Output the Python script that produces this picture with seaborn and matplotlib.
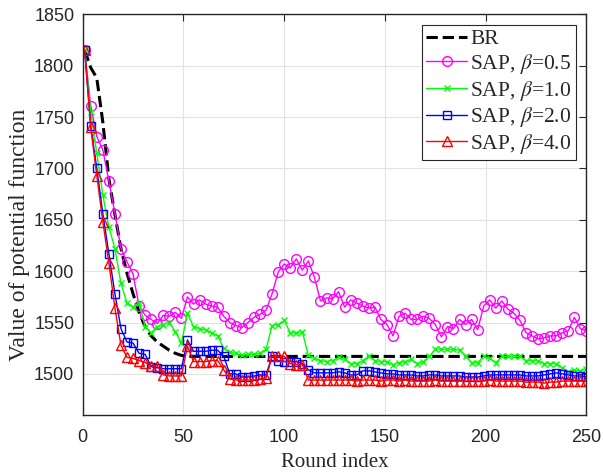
import numpy as np
import pandas as pd
import matplotlib
matplotlib.use('Agg')
import matplotlib.pyplot as plt
import seaborn as sns

sns.set_style("whitegrid")
plt.rcParams['font.family'] = ['Liberation Serif', 'DejaVu Serif']
plt.rcParams['mathtext.fontset'] = 'stix'

# rounds where values are recorded (every 3rd round)
rounds = np.arange(1, 251, 3)

br = [1815, 1798, 1788, 1745, 1690, 1655, 1622, 1598, 1578, 1560, 1546, 1537,
      1531, 1527, 1523, 1520, 1518] + [1517] * 67

sap_05 = [1815, 1761, 1731, 1718, 1688, 1656, 1622, 1609, 1597, 1566, 1557, 1553,
          1549, 1557, 1556, 1560, 1554, 1575, 1568, 1572, 1568, 1566, 1565, 1556,
          1550, 1547, 1545, 1550, 1555, 1558, 1562, 1578, 1599, 1607, 1603, 1612,
          1601, 1610, 1594, 1571, 1574, 1573, 1580, 1565, 1572, 1569, 1566, 1564,
          1565, 1553, 1548, 1537, 1556, 1559, 1553, 1553, 1556, 1554, 1548, 1536,
          1546, 1544, 1553, 1548, 1553, 1543, 1566, 1572, 1564, 1571, 1563, 1559,
          1552, 1540, 1537, 1534, 1535, 1537, 1537, 1540, 1542, 1555, 1544, 1542]

sap_10 = [1815, 1755, 1715, 1674, 1643, 1622, 1588, 1569, 1565, 1569, 1546, 1540,
          1546, 1548, 1550, 1541, 1530, 1559, 1546, 1544, 1543, 1540, 1537, 1525,
          1521, 1520, 1518, 1519, 1519, 1520, 1524, 1547, 1548, 1552, 1540, 1540,
          1541, 1518, 1515, 1513, 1512, 1513, 1516, 1514, 1510, 1510, 1513, 1517,
          1513, 1512, 1512, 1509, 1511, 1512, 1514, 1510, 1512, 1517, 1524, 1524,
          1524, 1524, 1523, 1517, 1511, 1511, 1517, 1515, 1511, 1517, 1517, 1517,
          1517, 1513, 1513, 1513, 1510, 1510, 1510, 1506, 1502, 1504, 1503, 1505]

sap_20 = [1815, 1741, 1700, 1656, 1617, 1578, 1544, 1531, 1530, 1520, 1519, 1507,
          1506, 1505, 1505, 1505, 1505, 1533, 1522, 1522, 1522, 1523, 1523, 1517,
          1500, 1500, 1497, 1497, 1498, 1499, 1499, 1517, 1513, 1512, 1512, 1512,
          1510, 1504, 1501, 1501, 1501, 1501, 1502, 1501, 1499, 1499, 1503, 1503,
          1502, 1501, 1500, 1500, 1499, 1499, 1499, 1498, 1498, 1499, 1499, 1498,
          1498, 1498, 1498, 1497, 1497, 1497, 1498, 1499, 1499, 1499, 1499, 1499,
          1499, 1498, 1498, 1498, 1499, 1500, 1501, 1500, 1499, 1498, 1498, 1497]

sap_40 = [1815, 1740, 1693, 1648, 1608, 1564, 1528, 1516, 1515, 1513, 1511, 1508,
          1508, 1499, 1498, 1498, 1498, 1527, 1512, 1512, 1512, 1513, 1513, 1504,
          1495, 1494, 1494, 1494, 1494, 1495, 1496, 1517, 1517, 1517, 1510, 1509,
          1509, 1494, 1494, 1494, 1494, 1494, 1494, 1494, 1494, 1493, 1494, 1494,
          1494, 1493, 1494, 1494, 1493, 1494, 1493, 1493, 1493, 1493, 1494, 1493,
          1493, 1493, 1493, 1493, 1493, 1493, 1493, 1494, 1493, 1493, 1493, 1493,
          1493, 1492, 1492, 1492, 1491, 1492, 1492, 1493, 1493, 1493, 1493, 1493]

labels = ['SAP, $\\beta$=0.5', 'SAP, $\\beta$=1.0', 'SAP, $\\beta$=2.0', 'SAP, $\\beta$=4.0']
colors = ['#FF00FF', '#00FF00', '#0000FF', '#FF0000']
markers = ['o', 'x', 's', '^']
msizes = [7, 5, 5.5, 6.5]

fig = plt.figure(figsize=(6.03, 4.72), dpi=100)
ax = fig.add_axes([0.1371, 0.1208, 0.8355, 0.849])

sns.lineplot(x=rounds, y=br, ax=ax, color='black', linewidth=2.2,
             linestyle='--', label='BR')

for vals, lab, c, m, ms in zip([sap_05, sap_10, sap_20, sap_40], labels, colors, markers, msizes):
    sns.lineplot(x=rounds, y=vals, ax=ax, color=c, linewidth=1.0, marker=m,
                 markersize=ms, markerfacecolor='none', markeredgecolor=c,
                 markeredgewidth=1.0, label=lab)

ax.set_xlim(0, 250)
ax.set_ylim(1460, 1850)
ax.set_xticks(np.arange(0, 251, 50))
ax.set_yticks(np.arange(1500, 1851, 50))
ax.grid(True, color='#e3e3e3', linewidth=0.8)
for s in ax.spines.values():
    s.set_visible(True)
    s.set_color('#262626')
    s.set_linewidth(1.0)
ax.tick_params(direction='in', length=5, width=0.8, top=True, right=True,
               labelsize=13, labelcolor='#262626', colors='#262626',
               labelfontfamily='Liberation Sans', pad=6)
ax.tick_params(axis='x', pad=10)
ax.set_xlabel('Round index', fontsize=15, labelpad=5)
ax.set_ylabel('Value of potential function', fontsize=17)
ax.yaxis.set_label_coords(-0.104, 0.45)

leg = ax.legend(loc='upper right', fontsize=15.5, frameon=True, fancybox=False,
                edgecolor='#262626', framealpha=1, handlelength=1.9,
                handletextpad=0.14, labelspacing=0.12, borderpad=0.2,
                borderaxespad=0.5)
leg.get_frame().set_linewidth(0.8)

fig.savefig('out.png', dpi=100)
